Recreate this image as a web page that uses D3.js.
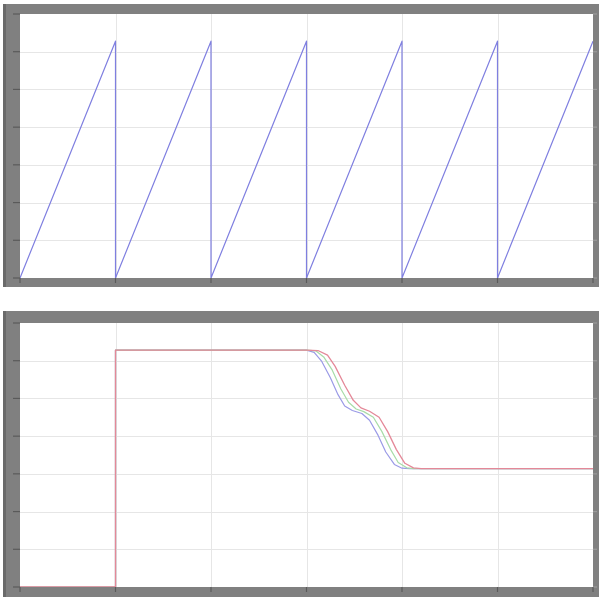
<!DOCTYPE html>
<html><head><meta charset="utf-8">
<script src="https://cdn.jsdelivr.net/npm/d3@7"></script>
<style>html,body{margin:0;padding:0;background:#fff;}svg{display:block;}</style>
</head><body>
<script>
// x ticks (time divisions) and y ticks (value divisions)
const xTicks = [0,1,2,3,4,5,6];
const yTicks = [0,1,2,3,4,5,6,7];

// Top panel: sawtooth angle (rad)
const sawT = [0,1,1,2,2,3,3,4,4,5,5,6];
const sawV = [0,6.28,0,6.28,0,6.28,0,6.28,0,6.28,0,6.28];

// Bottom panel: three responses
const blueT = [0,1,1,3.0,3.08,3.16,3.25,3.33,3.40,3.48,3.58,3.66,3.75,3.83,3.92,4.0,4.08,6];
const blueV = [0,0,6.28,6.28,6.22,5.98,5.55,5.10,4.80,4.68,4.60,4.42,4.02,3.58,3.25,3.15,3.14,3.14];
const greenT = [0,1,1,3.0,3.1,3.18,3.27,3.36,3.44,3.52,3.60,3.70,3.79,3.88,3.96,4.05,4.12,6];
const greenV = [0,0,6.28,6.28,6.26,6.10,5.75,5.25,4.90,4.72,4.65,4.50,4.12,3.65,3.30,3.16,3.14,3.14];
const redT = [0,1,1,3.0,3.12,3.22,3.30,3.40,3.49,3.57,3.66,3.76,3.85,3.94,4.03,4.12,4.2,6];
const redV = [0,0,6.28,6.28,6.27,6.15,5.85,5.35,4.95,4.75,4.66,4.50,4.12,3.65,3.28,3.16,3.14,3.14];

const W = 599, H = 597;
const svg = d3.select("body").append("svg").attr("width", W).attr("height", H);

function panel(frame, plot, series, id) {
  const g = svg.append("g");
  g.append("rect").attr("x", plot.x0).attr("y", plot.y0)
    .attr("width", plot.x1 - plot.x0).attr("height", plot.y1 - plot.y0)
    .attr("fill", "#ffffff");
  const x = d3.scaleLinear().domain([0, 6]).range([plot.x0, plot.x1]);
  const y = d3.scaleLinear().domain([0, 7]).range([plot.y1, plot.y0]);
  // grid
  const grid = g.append("g").attr("stroke", "#e6e6e6").attr("stroke-width", 1);
  grid.selectAll(".vx").data(xTicks.slice(1, -1)).join("line")
    .attr("x1", d => Math.round(x(d)) + 0.5).attr("x2", d => Math.round(x(d)) + 0.5)
    .attr("y1", plot.y0).attr("y2", plot.y1);
  grid.selectAll(".hy").data(yTicks.slice(1, -1)).join("line")
    .attr("y1", d => Math.round(y(d)) + 0.5).attr("y2", d => Math.round(y(d)) + 0.5)
    .attr("x1", plot.x0).attr("x2", plot.x1);
  // lines
  const lg = g.append("g");
  const line = d3.line().x(d => x(d[0])).y(d => y(d[1]));
  series.forEach(s => {
    const pts = s.t.map((t, i) => [t, s.v[i]]);
    lg.append("path").attr("d", line(pts)).attr("fill", "none")
      .attr("stroke", s.c).attr("stroke-width", s.w || 1.2).attr("stroke-linejoin", "round");
  });
  // frame bands drawn over the plot edges
  const fp = `M${frame.x0},${frame.y0}H${frame.x1}V${frame.y1}H${frame.x0}Z` +
             `M${plot.x0},${plot.y0}V${plot.y1}H${plot.x1}V${plot.y0}Z`;
  g.append("path").attr("d", fp).attr("fill", "#808080").attr("fill-rule", "evenodd");
  g.append("rect").attr("x", frame.x0).attr("y", frame.y0)
    .attr("width", 3).attr("height", frame.y1 - frame.y0).attr("fill", "#6a6a6a");
  // ticks on frame
  const tk = g.append("g").attr("stroke", "#5a5a5a").attr("stroke-width", 1.2);
  tk.selectAll(".ly").data(yTicks).join("line")
    .attr("x1", plot.x0 - 7).attr("x2", plot.x0)
    .attr("y1", d => y(d)).attr("y2", d => y(d));
  tk.selectAll(".ry").data(yTicks).join("line")
    .attr("x1", plot.x1).attr("x2", plot.x1 + 4)
    .attr("y1", d => y(d)).attr("y2", d => y(d)).attr("stroke", "#9a9a9a");
  tk.selectAll(".bx").data(xTicks).join("line")
    .attr("x1", d => x(d)).attr("x2", d => x(d))
    .attr("y1", plot.y1).attr("y2", plot.y1 + 5);
}

panel({x0: 3, y0: 4, x1: 599, y1: 287}, {x0: 20, y0: 14, x1: 593, y1: 278},
  [{t: sawT, v: sawV, c: "#7f7fe0"}], "c1");
panel({x0: 3, y0: 311, x1: 599, y1: 597}, {x0: 20, y0: 323, x1: 593, y1: 587},
  [{t: blueT, v: blueV, c: "#9a9ae6"}, {t: greenT, v: greenV, c: "#a8dca8"}, {t: redT, v: redV, c: "#e48898", w: 1.3}], "c2");
</script>
</body></html>
